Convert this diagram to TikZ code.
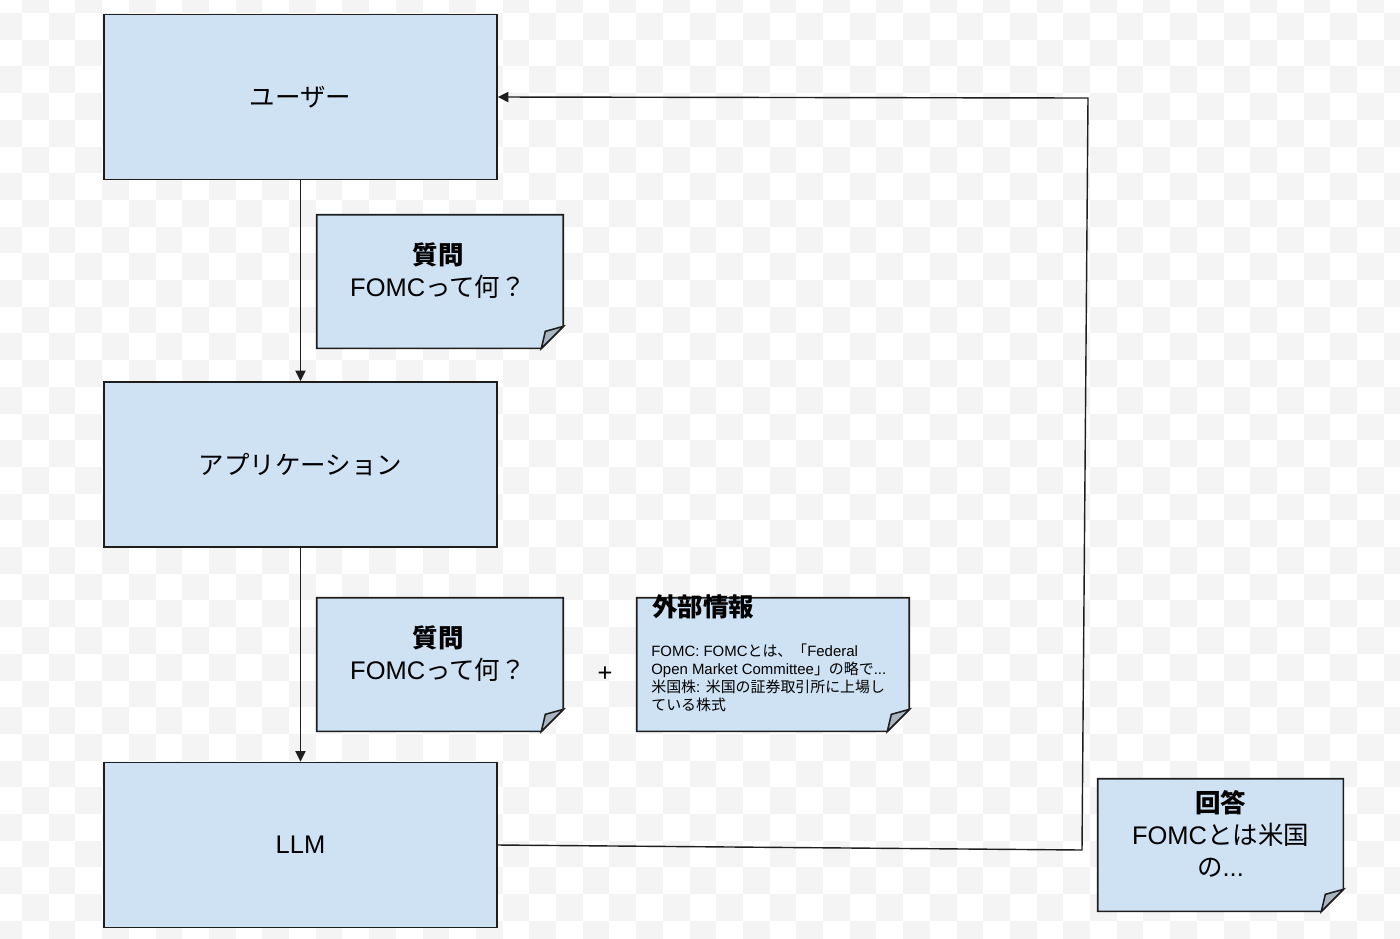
\documentclass[tikz,border=0pt]{standalone}
\usepackage{fontspec}
\setmainfont{Liberation Sans}
\newfontfamily\jp{Noto Sans CJK JP}
\usetikzlibrary{arrows.meta}
\definecolor{boxfill}{HTML}{CFE2F3}
\definecolor{foldfill}{HTML}{A9B6C2}
\definecolor{edge}{HTML}{1E1E1E}
\definecolor{checkgray}{HTML}{F4F4F4}
\pgfdeclarelayer{checker}
\pgfdeclarelayer{notebg}
\pgfsetlayers{checker,notebg,main}
\newcommand\drawnote[1]{%
  \begin{pgfonlayer}{notebg}
    \draw[noteshape] (#1.north west) -- (#1.north east) -- ([yshift=0.44cm]#1.south east)
      -- ([xshift=-0.44cm]#1.south east) -- (#1.south west) -- cycle;
    \draw[foldshape] ([yshift=0.44cm]#1.south east) -- ([xshift=-0.44cm]#1.south east)
      -- ([xshift=-0.36cm,yshift=0.34cm]#1.south east) -- cycle;
  \end{pgfonlayer}}
\begin{document}
\begin{tikzpicture}[x=0.02cm,y=-0.02cm,
  box/.style={draw=edge, line width=0.95pt, fill=boxfill, minimum width=7.86cm, minimum height=3.3cm, inner sep=0pt, font=\fontsize{14.5}{18}\selectfont},
  note/.style={minimum height=2.66cm, inner sep=0pt},
  noteshape/.style={draw=edge, line width=0.95pt, fill=boxfill, line join=miter},
  foldshape/.style={draw=edge, line width=0.9pt, fill=foldfill},
  notetext/.style={align=center, inner sep=0pt, font=\fontsize{14.5}{18.2}\selectfont},
  arr/.style={draw=edge, line width=0.8pt, -{Triangle[length=6pt,width=5.8pt]}},
  checker/.style={fill=checkgray}
]
\useasboundingbox (0,0) rectangle (1400,938);
\begin{pgfonlayer}{checker}
  \fill[white] (0,0) rectangle (1400,938);
  \begin{scope}
    \clip (0,0) rectangle (1400,938);
    \foreach \j in {0,...,35}{
      \foreach \i in {0,2,...,52}{
        \fill[checker] ({-4.7+(\i+mod(\j+1,2))*26.7},{-13.7+\j*26.7}) rectangle ++(26.7,26.7);
      }
    }
  \end{scope}
\end{pgfonlayer}

% main boxes
\node[box] (user) at (300.5,97) {\jp ユーザー};
\node[box] (app) at (300.5,464.5) {\jp アプリケーション};
\node[box] (llm) at (300.5,845) {LLM};

% notes
\node[note, minimum width=4.92cm] (q1) at (440,281.5) {};
\drawnote{q1}
\node[notetext] (q1t) at ([xshift=-0.04cm,yshift=0.21cm]q1.center) {{\jp\bfseries 質問}\\FOMC{\jp って何？}};

\node[note, minimum width=4.92cm] (q2) at (440,664.5) {};
\drawnote{q2}
\node[notetext] (q2t) at ([xshift=-0.04cm,yshift=0.21cm]q2.center) {{\jp\bfseries 質問}\\FOMC{\jp って何？}};

\node[font=\fontsize{14.5}{18}\selectfont] (plus) at (605,674) {+};

\node[note, minimum width=5.44cm] (info) at (773,664.5) {};
\drawnote{info}
\node[anchor=west, inner sep=0pt, font=\jp\bfseries\fontsize{14.5}{18}\selectfont] (infot) at (652,607) {外部情報};
\node[anchor=north west, align=left, inner sep=0pt, font=\fontsize{8.5}{10.3}\selectfont] (infob) at (651,643)
  {FOMC: FOMC{\jp とは、「}Federal\\Open Market Committee{\jp 」の略で}...\\{\jp 米国株}: {\jp 米国の証券取引所に上場し}\\{\jp ている株式}};

\node[note, minimum width=4.9cm, minimum height=2.64cm] (ans) at (1220.5,845) {};
\drawnote{ans}
\node[notetext] (anst) at ([yshift=0.22cm]ans.center) {{\jp\bfseries 回答}\\FOMC{\jp とは米国}\\{\jp の}...};

% connectors
\coordinate (c1) at (1082,850);
\coordinate (c2) at (1088,98);
\draw[arr] (user.south) -- (app.north);
\draw[arr] (app.south) -- (llm.north);
\draw[arr] (llm.east) -- (c1) -- (c2) -- (user.east);
\end{tikzpicture}
\end{document}
